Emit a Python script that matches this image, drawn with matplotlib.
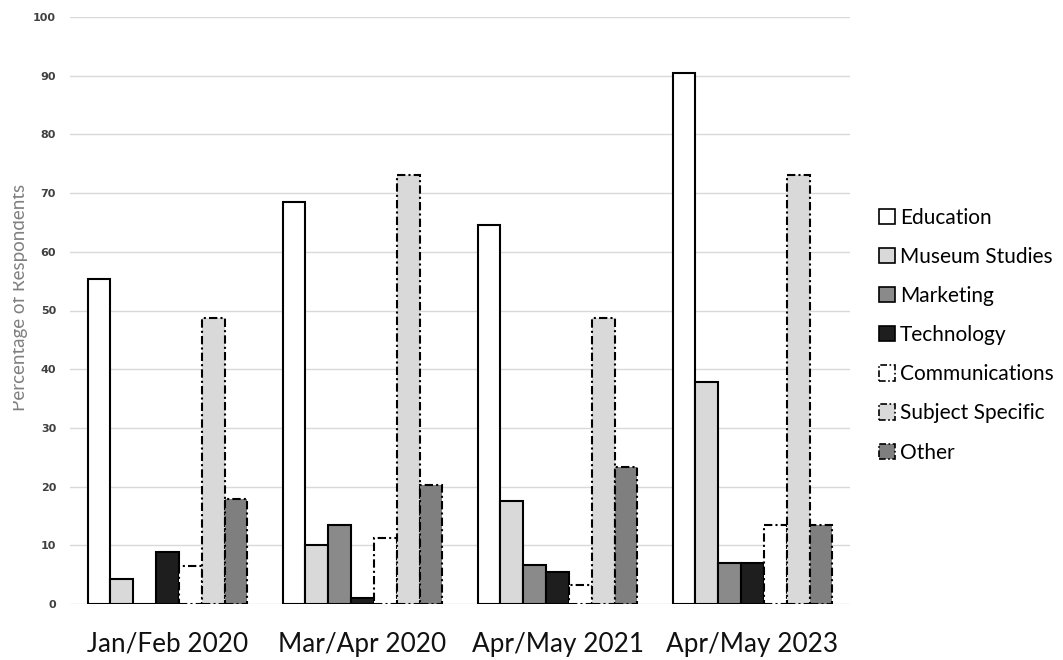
import matplotlib
matplotlib.use("Agg")
import matplotlib.pyplot as plt
import numpy as np
from matplotlib.patches import Patch, Rectangle

periods = ["Jan/Feb 2020", "Mar/Apr 2020", "Apr/May 2021", "Apr/May 2023"]
fields = ["Education", "Museum Studies", "Marketing", "Technology",
          "Communications", "Subject Specific", "Other"]

education = [55.4, 68.5, 64.5, 90.5]
museum_studies = [4.3, 10.0, 17.6, 37.8]
marketing = [0.0, 13.5, 6.6, 6.9]
technology = [8.9, 1.1, 5.5, 6.9]
communications = [6.5, 11.2, 3.3, 13.5]
subject_specific = [48.8, 73.1, 48.8, 73.1]
other = [17.9, 20.2, 23.3, 13.5]

series = [education, museum_studies, marketing, technology,
          communications, subject_specific, other]

dashdot = (0, (4, 1.5, 1, 1.5))
styles = [
    dict(facecolor="white", edgecolor="black", linestyle="solid"),
    dict(facecolor="#d9d9d9", edgecolor="black", linestyle="solid"),
    dict(facecolor="#8a8a8a", edgecolor="black", linestyle="solid"),
    dict(facecolor="#1e1e1e", edgecolor="black", linestyle="solid"),
    dict(facecolor="white", edgecolor="black", linestyle=dashdot),
    dict(facecolor="#d9d9d9", edgecolor="black", linestyle=dashdot),
    dict(facecolor="#7f7f7f", edgecolor="black", linestyle=dashdot),
]

W, H = 1063, 660
fig = plt.figure(figsize=(W / 100, H / 100), dpi=100)
ax = fig.add_axes([70 / W, 56 / H, 780 / W, 587 / H])

x = np.arange(len(periods))
width = 0.117
for i, (vals, st) in enumerate(zip(series, styles)):
    offs = (i - 3) * width
    ax.bar(x + offs, vals, width=width, linewidth=1.5, zorder=3, **st)

ax.set_xlim(-0.5, 3.5)
ax.set_ylim(0, 100)
ax.set_yticks(np.arange(0, 101, 10))
ax.yaxis.grid(True, color="#d9d9d9", linewidth=1.0, zorder=0)
ax.set_axisbelow(True)
for s in ax.spines.values():
    s.set_visible(False)
ax.tick_params(axis="both", length=0)
ax.tick_params(axis="y", labelsize=8, labelcolor="#404040", pad=10)
for lab in ax.get_yticklabels():
    lab.set_fontweight("bold")
ax.set_xticks(x)
ax.set_xticklabels(periods, fontsize=18.8, family="Lato", color="#111111")
ax.tick_params(axis="x", pad=20)

# axis title, its upper half hidden at the left edge of the canvas
fig.text(25 / W, (H - 297) / H, "Percentage of Respondents", rotation=90,
         rotation_mode="anchor", ha="center", va="baseline",
         fontsize=13.5, family="Lato", color="#808080", zorder=2)
fig.patches.append(Rectangle((0, 0), 13 / W, 1, transform=fig.transFigure,
                             facecolor="white", edgecolor="none", zorder=5))

handles = [Patch(linewidth=1.2, **st) for st in styles]
leg = fig.legend(handles, fields, loc="center left",
                 bbox_to_anchor=(879 / W, (H - 335) / H),
                 bbox_transform=fig.transFigure, frameon=False,
                 prop=dict(family="Lato", size=15), handlelength=0.75,
                 handleheight=0.75, handletextpad=0.25, labelspacing=0.92,
                 borderpad=0, borderaxespad=0)

fig.savefig("out.png", dpi=100)
